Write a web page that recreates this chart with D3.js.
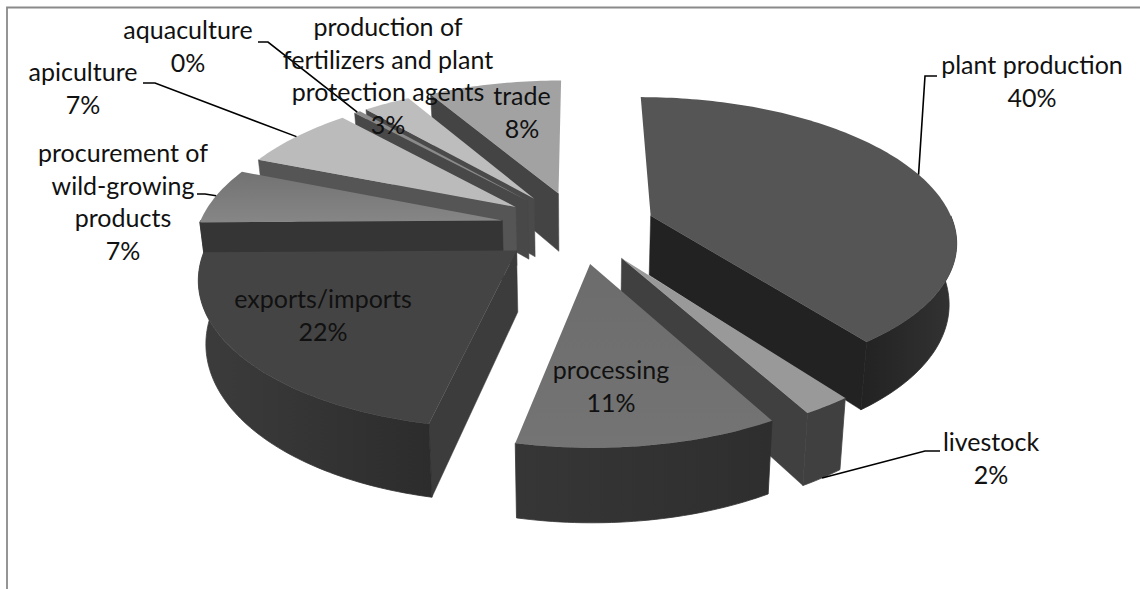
<!DOCTYPE html>
<html><head><meta charset="utf-8">
<script src="https://cdn.jsdelivr.net/npm/d3@7"></script>
<style>html,body{margin:0;background:#fff}svg{display:block}text{font-family:Lato,"Open Sans",sans-serif;font-size:25px;fill:#111}</style>
</head><body><svg id="c" width="1140" height="589"></svg>
<script>
const categories = ["plant production","livestock","processing","exports/imports","procurement of wild-growing products","apiculture","aquaculture","production of fertilizers and plant protection agents","trade"];
const values = [39.8,2.14,11.33,21.53,6.25,7.17,0.39,2.97,8.42];
const percents = ["40%","2%","11%","22%","7%","7%","0%","3%","8%"];
const labelLines = [["plant production","40%"],["livestock","2%"],["processing","11%"],["exports/imports","22%"],["procurement of","wild-growing","products","7%"],["apiculture","7%"],["aquaculture","0%"],["production of","fertilizers and plant","protection agents","3%"],["trade","8%"]];
const labelX = [1032,991,611,323,123,83,188,388,522];
const labelY = [68,445,373,302,156,75,33,30,99];
const leaderElbows = [[[937,76],[925,76]],[[940,451],[925,451]],null,null,[[197,194],[205,194]],[[143,83],[155,83]],[[258,42],[268,42]],null,null];
const topFrom = ["#555555","#999999","#6c6c6c","#444444","#727272","#bbbbbb","#8a8a8a","#bdbdbd","#a2a2a2"];
const topTo = ["#555555","#999999","#747474","#444444","#868686","#bbbbbb","#8a8a8a","#bdbdbd","#a2a2a2"];
const sideColors = ["#222222","#404040","#3a3a3a","#3c3c3c","#353535","#555555","#484848","#4a4a4a","#444444"];
const outerFrom = ["#222222","#404040","#363636","#3c3c3c","#353535","#555555","#484848","#4a4a4a","#444444"];
const outerTo = ["#333333","#404040","#2e2e2e","#2c2c2c","#353535","#555555","#484848","#4a4a4a","#444444"];

const cx=578, cy=227, A=304, B=141, persist=0.16, explode=0.255, depth=60, bottomShrink=0.98;
const scaleU=d3.scaleLinear().domain([-1,1]).range([-A,A]);
const scaleV=d3.scaleLinear().domain([-1,1]).range([-B,B]);
function proj(u,v,down){
  const s=1/(1-persist*v);
  const k=down?bottomShrink:1;
  return [cx+scaleU(u)*s*k, cy+scaleV(v)*s+(down?depth*s:0)];
}
const svg=d3.select("#c");
const defs=svg.append("defs");
const line=d3.line();
const pie=d3.pie().sort(null).value(d=>d).startAngle(0).endAngle(2*Math.PI);
const arcs=pie(values).map((a,i)=>{
  const mid=(a.startAngle+a.endAngle)/2;
  return {i,a0:a.startAngle,a1:a.endAngle,mid,ou:explode*Math.sin(mid),ov:-explode*Math.cos(mid)};
});
function pt(d,ang,r,down){return proj(d.ou+r*Math.sin(ang),d.ov-r*Math.cos(ang),down);}
function arcPts(d,from,to,down){
  const pts=[];const n=Math.max(2,Math.ceil((to-from)/0.02));
  for(let j=0;j<=n;j++){pts.push(pt(d,from+(to-from)*j/n,1,down));}
  return pts;
}
// frame: top and left edge only, right and bottom fall off the picture
svg.append("path").attr("d",line([[7,589],[7,7.5],[1140,7.5]])).attr("fill","none").attr("stroke","#8a8a8a").attr("stroke-width",1.8);

const order=arcs.slice().sort((x,y)=>x.ov-y.ov);
order.forEach(d=>{
  const g=svg.append("g");
  const gid="og"+d.i, tid="tg"+d.i;
  const gr=defs.append("linearGradient").attr("id",gid);
  gr.append("stop").attr("offset","0").attr("stop-color",outerFrom[d.i]);
  gr.append("stop").attr("offset","1").attr("stop-color",outerTo[d.i]);
  const tg=defs.append("linearGradient").attr("id",tid).attr("x1",0).attr("y1",0).attr("x2",0).attr("y2",1);
  tg.append("stop").attr("offset","0").attr("stop-color",topFrom[d.i]);
  tg.append("stop").attr("offset","1").attr("stop-color",topTo[d.i]);
  const apexT=pt(d,0,0,false),apexB=pt(d,0,0,true);
  const side=(ang)=>{const t=pt(d,ang,1,false),b=pt(d,ang,1,true);return [apexT,t,b,apexB];};
  const walls=[];
  if(-Math.sin(d.a0)>1e-6) walls.push(side(d.a0));
  if(Math.sin(d.a1)>1e-6) walls.push(side(d.a1));
  walls.forEach(w=>g.append("path").attr("d",line(w)+"Z").attr("fill",sideColors[d.i]).attr("stroke",sideColors[d.i]).attr("stroke-width",0.5));
  const from=Math.max(d.a0,Math.PI/2), to=Math.min(d.a1,3*Math.PI/2);
  if(to>from){
    const t=arcPts(d,from,to,false), b=arcPts(d,from,to,true);
    g.append("path").attr("d",line(t.concat(b.reverse()))+"Z").attr("fill","url(#"+gid+")").attr("stroke","url(#"+gid+")").attr("stroke-width",0.8);
  }
  const topArc=arcPts(d,d.a0,d.a1,false);
  g.append("path").attr("d",line([apexT].concat(topArc))+"Z").attr("fill","url(#"+tid+")");
});
// leaders
arcs.forEach(d=>{
  const el=leaderElbows[d.i]; if(!el) return;
  const end=pt(d,d.mid,1,d.i===1);
  svg.append("path").attr("d",line(el.concat([end]))).attr("fill","none").attr("stroke","#000").attr("stroke-width",1.6);
});
// labels
labelLines.forEach((ls,i)=>{
  ls.forEach((t,j)=>svg.append("text").attr("x",labelX[i]).attr("y",labelY[i]+j*32.5).attr("text-anchor","middle").attr("dominant-baseline","middle").text(t));
});
</script></body></html>
